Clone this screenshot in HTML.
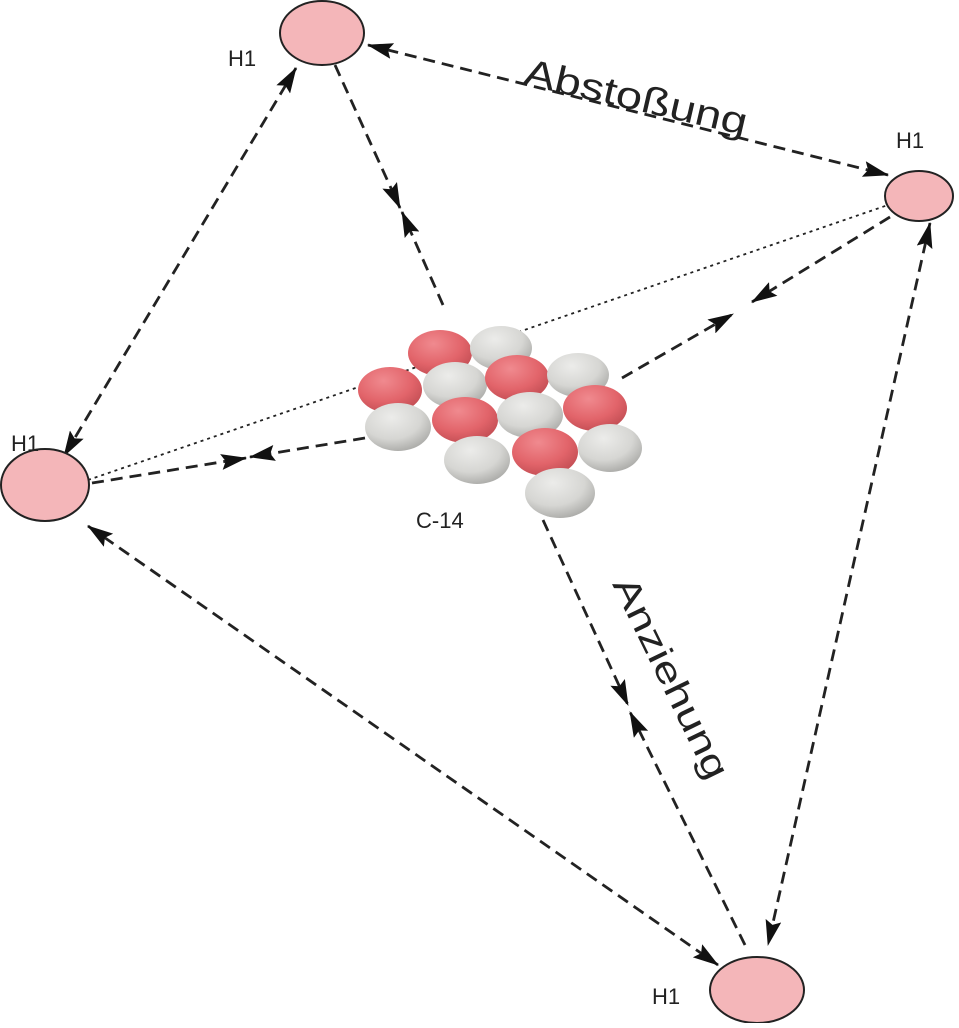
<!DOCTYPE html>
<html><head><meta charset="utf-8"><style>html,body{margin:0;padding:0;background:#fff}</style></head>
<body>
<svg width="959" height="1023" viewBox="0 0 959 1023" xmlns="http://www.w3.org/2000/svg" font-family="Liberation Sans, sans-serif">
<defs>
<marker id="a" viewBox="0 0 24 14" refX="23" refY="7" markerWidth="26" markerHeight="16" markerUnits="userSpaceOnUse" orient="auto-start-reverse" preserveAspectRatio="none"><path d="M0,0 L24,7 L0,14 L4,7 z" fill="#111" stroke="none"/></marker>
<radialGradient id="r" cx="0.4" cy="0.3" r="0.75"><stop offset="0" stop-color="#f08a8f"/><stop offset="0.6" stop-color="#e2646a"/><stop offset="1" stop-color="#c04c52"/></radialGradient>
<radialGradient id="g" cx="0.4" cy="0.3" r="0.75"><stop offset="0" stop-color="#ececea"/><stop offset="0.6" stop-color="#d6d6d3"/><stop offset="1" stop-color="#a8a8a5"/></radialGradient>
</defs>
<g stroke="#222" stroke-width="2.8" stroke-dasharray="12,7" fill="none">
<line x1="368" y1="45" x2="888" y2="175" marker-start="url(#a)" marker-end="url(#a)"/>
<line x1="296" y1="68" x2="64" y2="456" marker-start="url(#a)" marker-end="url(#a)"/>
<line x1="88" y1="526" x2="718" y2="965" marker-start="url(#a)" marker-end="url(#a)"/>
<line x1="930" y1="223" x2="768" y2="945" marker-start="url(#a)" marker-end="url(#a)"/>
<line x1="335" y1="65" x2="400" y2="208" marker-end="url(#a)"/>
<line x1="443" y1="305" x2="402" y2="212" marker-end="url(#a)"/>
<line x1="890" y1="217" x2="752" y2="302" marker-end="url(#a)"/>
<line x1="622" y1="378" x2="733" y2="314" marker-end="url(#a)"/>
<line x1="92" y1="483" x2="246" y2="458" marker-end="url(#a)"/>
<line x1="365" y1="438" x2="250" y2="457" marker-end="url(#a)"/>
<line x1="543" y1="520" x2="628" y2="705" marker-end="url(#a)"/>
<line x1="745" y1="945" x2="630" y2="712" marker-end="url(#a)"/>
</g>
<line x1="88" y1="480" x2="888" y2="205" stroke="#222" stroke-width="1.8" stroke-dasharray="3,4"/>
<g stroke="#222" stroke-width="2" fill="#f4b6b9">
<ellipse cx="322" cy="33" rx="42" ry="32"/>
<ellipse cx="919" cy="196" rx="34" ry="25"/>
<ellipse cx="45" cy="485" rx="44" ry="36"/>
<ellipse cx="757" cy="990" rx="47" ry="33"/>
</g>
<g>
<ellipse cx="440" cy="353" rx="32" ry="23" fill="url(#r)"/>
<ellipse cx="501" cy="348" rx="31" ry="22" fill="url(#g)"/>
<ellipse cx="390" cy="390" rx="32" ry="23" fill="url(#r)"/>
<ellipse cx="455" cy="385" rx="32" ry="23" fill="url(#g)"/>
<ellipse cx="517" cy="378" rx="32" ry="23" fill="url(#r)"/>
<ellipse cx="578" cy="375" rx="31" ry="22" fill="url(#g)"/>
<ellipse cx="398" cy="427" rx="33" ry="24" fill="url(#g)"/>
<ellipse cx="465" cy="420" rx="33" ry="23" fill="url(#r)"/>
<ellipse cx="530" cy="415" rx="33" ry="23" fill="url(#g)"/>
<ellipse cx="595" cy="408" rx="32" ry="23" fill="url(#r)"/>
<ellipse cx="477" cy="460" rx="33" ry="24" fill="url(#g)"/>
<ellipse cx="545" cy="452" rx="33" ry="24" fill="url(#r)"/>
<ellipse cx="610" cy="448" rx="32" ry="24" fill="url(#g)"/>
<ellipse cx="560" cy="493" rx="35" ry="25" fill="url(#g)"/>
</g>
<g fill="#222" font-size="22">
<text x="228" y="66">H1</text>
<text x="896" y="148">H1</text>
<text x="11" y="451">H1</text>
<text x="652" y="1004">H1</text>
<text x="416" y="528">C-14</text>
</g>
<text x="522" y="84" font-size="38" fill="#222" textLength="228" lengthAdjust="spacingAndGlyphs" transform="rotate(13 522 84)">Abstoßung</text>
<text x="612" y="584" font-size="36" fill="#222" textLength="220" lengthAdjust="spacingAndGlyphs" transform="rotate(64 612 584)">Anziehung</text>
</svg>
</body></html>
